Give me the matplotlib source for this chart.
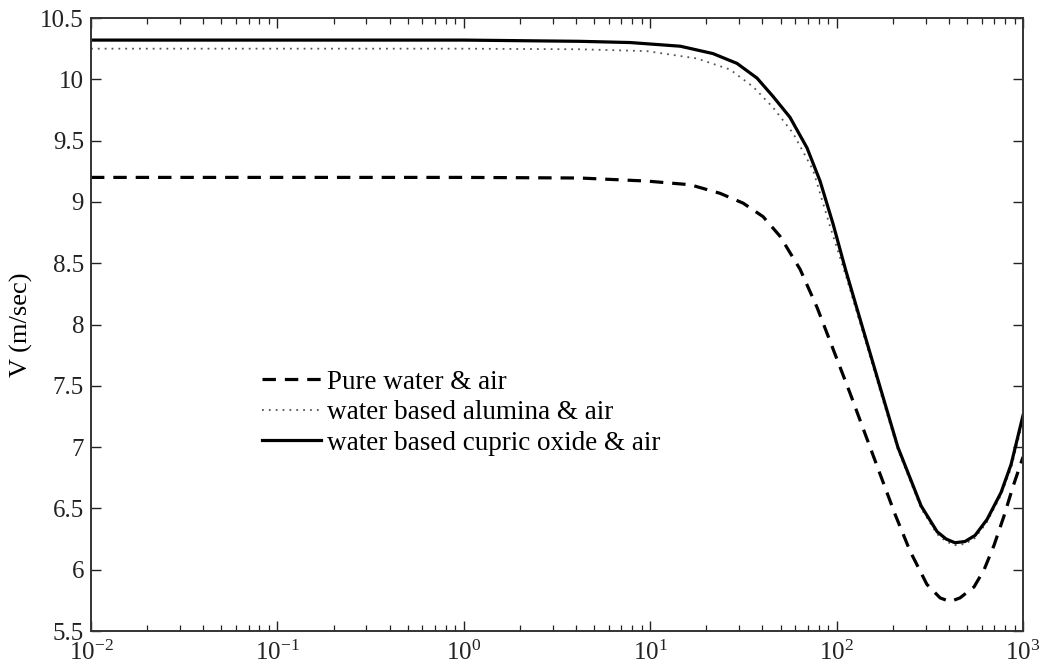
import matplotlib
matplotlib.use("Agg")
import matplotlib.pyplot as plt
from matplotlib.ticker import LogLocator, MultipleLocator, NullFormatter

plt.rcParams['font.family'] = ['Liberation Serif', 'DejaVu Serif']
plt.rcParams['mathtext.fontset'] = 'stix'

# Pure water & air
x_water = [0.01, 1, 4.2, 9.6, 16.4, 23.7, 31.5, 40.3, 49.7, 63.7, 78.5, 95.7,
           118, 142, 171, 206, 248, 305, 359, 406, 459, 546, 618, 699, 791, 884, 1000]
v_water = [9.20, 9.20, 9.195, 9.17, 9.14, 9.07, 8.99, 8.88, 8.72, 8.45, 8.14, 7.80,
           7.44, 7.11, 6.78, 6.45, 6.15, 5.88, 5.77, 5.74, 5.77, 5.86, 6.00, 6.20, 6.44, 6.68, 6.92]

# Water based alumina & air
x_alumina = [0.01, 1, 4.2, 9.6, 17.8, 26.8, 35.6, 45.6, 58.4, 74.7, 92.2,
             112, 136.8, 171, 213, 284, 346, 387, 431, 488, 553, 641, 762, 863, 1000]
v_alumina = [10.25, 10.25, 10.245, 10.23, 10.17, 10.08, 9.94, 9.77, 9.56, 9.26, 8.80,
             8.40, 7.96, 7.46, 6.98, 6.50, 6.29, 6.23, 6.20, 6.21, 6.26, 6.39, 6.61, 6.83, 7.22]

# Water based cupric oxide & air
x_cupric = [0.01, 1, 4.2, 7.8, 14.5, 21.7, 29.2, 37.4, 45.6, 56.2, 69.4, 81.5, 95.7,
            112, 136.8, 171, 213, 284, 346, 387, 431, 488, 553, 641, 762, 863, 1000]
v_cupric = [10.32, 10.32, 10.31, 10.30, 10.27, 10.21, 10.13, 10.01, 9.86, 9.69, 9.44, 9.17, 8.82,
            8.44, 7.99, 7.49, 7.00, 6.52, 6.31, 6.25, 6.22, 6.23, 6.28, 6.41, 6.63, 6.86, 7.26]

labels = ['Pure water & air', 'water based alumina & air',
          'water based cupric oxide & air']

fig = plt.figure(figsize=(10.48, 6.70), dpi=100)
ax = fig.add_axes([0.0868, 0.0582, 0.8894, 0.9149])

ax.plot(x_water, v_water, color='black', lw=2.3, linestyle=(0, (4.2, 2.8)),
        label=labels[0], dash_joinstyle='round')
ax.plot(x_alumina, v_alumina, color='#555555', lw=1.3, linestyle=(0, (1, 2.8)),
        label=labels[1])
ax.plot(x_cupric, v_cupric, color='black', lw=2.3, linestyle='-',
        label=labels[2], solid_joinstyle='round')

ax.set_xscale('log')
ax.set_xlim(1e-2, 1e3)
ax.set_ylim(5.5, 10.5)
ax.yaxis.set_major_locator(MultipleLocator(0.5))
ax.xaxis.set_major_locator(LogLocator(base=10, numticks=10))
ax.xaxis.set_minor_locator(LogLocator(base=10, subs=range(2, 10), numticks=20))
ax.xaxis.set_minor_formatter(NullFormatter())
ax.yaxis.set_major_formatter(plt.FuncFormatter(lambda v, pos: f'{v:g}'))

ax.tick_params(which='both', direction='in', top=True, right=True,
               labelsize=18, colors='#222222')
ax.tick_params(which='major', length=7, width=1.0, pad=5)
ax.tick_params(which='minor', length=4, width=0.9)
ax.tick_params(axis='x', which='major', pad=7)
for s in ax.spines.values():
    s.set_linewidth(1.4)
    s.set_color('#333333')

ax.set_ylabel('V (m/sec)', fontsize=19)
ax.yaxis.set_label_coords(-0.062, 0.5)

ax.legend(loc='upper left', bbox_to_anchor=(0.183, 0.426), frameon=False,
          fontsize=19.5, handlelength=2.2, handletextpad=0.22,
          labelspacing=0.2, borderpad=0, borderaxespad=0)

fig.savefig('out.png', dpi=100)
